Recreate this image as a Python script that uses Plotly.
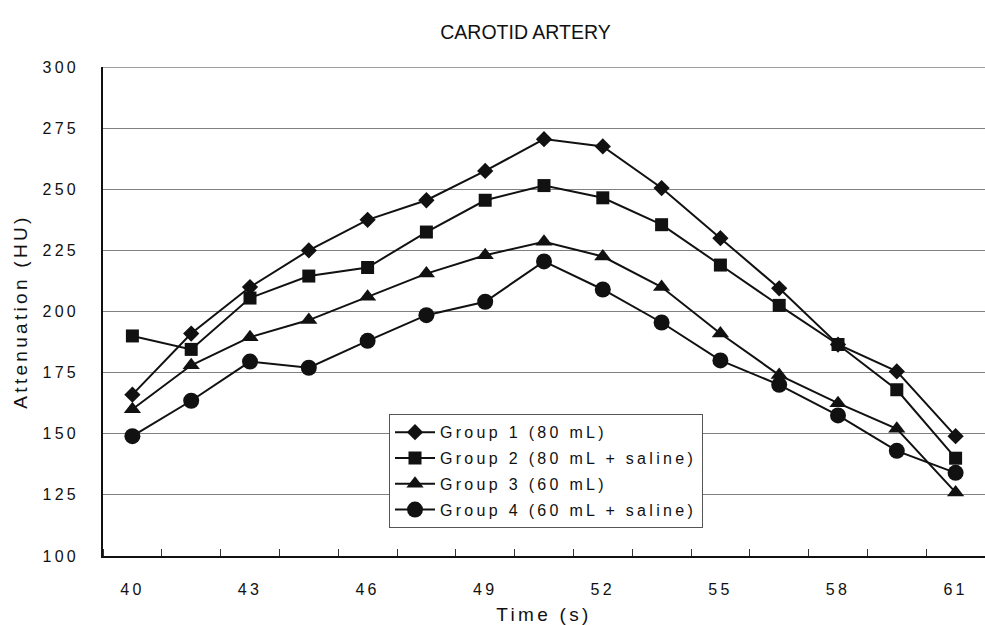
import plotly.graph_objects as go

# ---- data ----
times = [40, 41.5, 43, 44.5, 46, 47.5, 49, 50.5, 52, 53.5, 55, 56.5, 58, 59.5, 61]
tick_labels = ["40", "43", "46", "49", "52", "55", "58", "61"]
group1 = [166, 191, 210, 225, 237.5, 245.5, 257.5, 270.5, 267.5, 250.5, 230, 209.5, 186.5, 175.5, 149]
group2 = [190, 184.5, 205.5, 214.5, 218, 232.5, 245.5, 251.5, 246.5, 235.5, 219, 202.5, 186.5, 168, 140]
group3 = [160, 178, 189.5, 196.5, 206, 215.5, 223, 228.5, 222.5, 210, 191, 174, 162.5, 152, 126]
group4 = [149, 163.5, 179.5, 177, 188, 198.5, 204, 220.5, 209, 195.5, 180, 170, 157.5, 143, 134]
series_names = ["Group 1 (80 mL)", "Group 2 (80 mL + saline)",
                "Group 3 (60 mL)", "Group 4 (60 mL + saline)"]
y_ticks = [100, 125, 150, 175, 200, 225, 250, 275, 300]

# ---- styles ----
symbols = ["diamond", "square", "triangle-up", "circle"]
marker_sizes = [12.5, 13, 15, 16]
FONT = "Liberation Sans, Arial, Helvetica, sans-serif"
INK = "#111111"
GRID = "#808080"

fig = go.Figure()
for i, (vals, name, sym, ms) in enumerate(zip([group1, group2, group3, group4], series_names, symbols, marker_sizes)):
    fig.add_trace(go.Scatter(
        x=times, y=vals, name=name, mode="lines+markers", legendgroup=f"g{i}",
        line=dict(color=INK, width=2),
        marker=dict(symbol=sym, size=ms, color=INK, line=dict(width=0)),
    ))

half = (times[1] - times[0]) / 2
# top gridline (plotly omits the gridline at the range end)
fig.add_shape(type="line", xref="paper", x0=0, x1=1, yref="y",
              y0=y_ticks[-1], y1=y_ticks[-1], line=dict(color=GRID, width=1.6), layer="below")

fig.update_layout(
    width=985, height=625,
    margin=dict(l=103, r=0, t=67, b=68),
    paper_bgcolor="white", plot_bgcolor="white",
    font=dict(family=FONT, size=16, color=INK),
    title=dict(text="CAROTID ARTERY", x=525.5 / 985, xref="container", xanchor="center",
               y=1 - 32 / 625, yref="container", yanchor="middle",
               font=dict(size=19.5, color=INK)),
    showlegend=True,
    legend=dict(x=(389 - 103) / 882, y=(557 - 415) / 490, xanchor="left", yanchor="top",
                bgcolor="white", bordercolor="#555555", borderwidth=1,
                itemwidth=40, tracegroupgap=2),
    xaxis=dict(
        range=[times[0] - half, times[-1] + half],
        tickmode="array", tickvals=times[::2], ticktext=tick_labels,
        ticks="", showline=True, linecolor=INK, linewidth=1.5,
        showgrid=False, zeroline=False, ticklabelstandoff=18,
        minor=dict(tickmode="linear", tick0=times[0] - half, dtick=2 * half,
                   ticks="inside", ticklen=7, tickwidth=1.2, tickcolor="#333333",
                   showgrid=False),
        title=dict(text="Time (s)", standoff=14),
    ),
    yaxis=dict(
        range=[y_ticks[0], y_ticks[-1]],
        tickmode="array", tickvals=y_ticks,
        ticks="", showline=True, linecolor=INK, linewidth=1.5,
        showgrid=True, gridcolor=GRID, gridwidth=1.3, zeroline=False,
        ticklabelstandoff=19,
        title=dict(text="Attenuation (HU)", standoff=10),
    ),
)

post = """
document.body.style.margin = '0';
document.body.style.padding = '0';
var gd = document.getElementById('{plot_id}');
var st = document.createElement('style');
st.textContent = '.xtick text, .ytick text, .legendtext, .xtitle, .ytitle {letter-spacing: 3.3px;}';
document.head.appendChild(st);
return Plotly.relayout(gd, {'font.size': 16.0001});
"""
fig.write_html("out.html", post_script=post, config={"displayModeBar": False})
